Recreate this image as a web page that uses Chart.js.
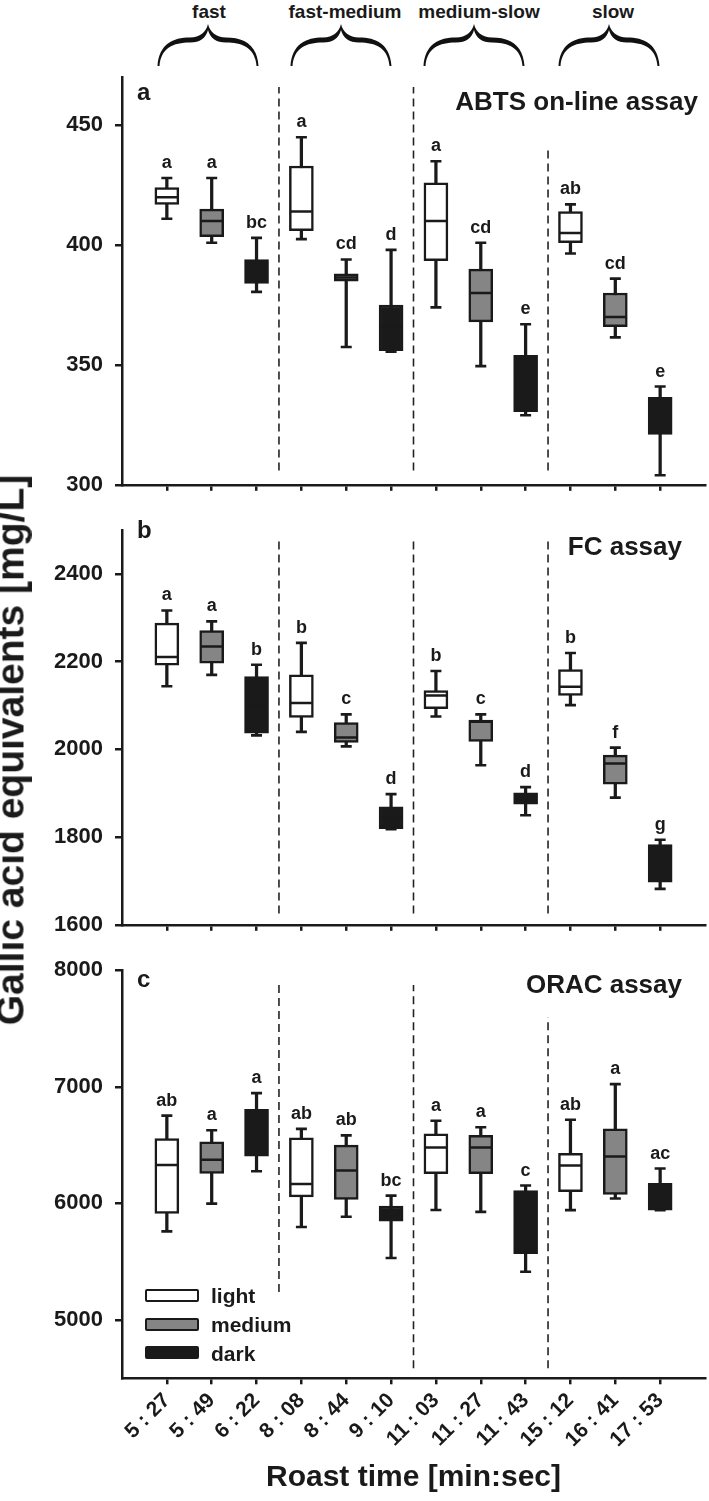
<!DOCTYPE html>
<html><head><meta charset="utf-8">
<script src="https://cdn.jsdelivr.net/npm/chart.js@4.4.1/dist/chart.umd.min.js"></script>
<style>
html,body{margin:0;padding:0;background:#fff;}
body{width:709px;height:1501px;position:relative;overflow:hidden;font-family:"Liberation Sans",Arial,sans-serif;font-weight:bold;color:#1a1a1a;}
canvas{position:absolute;left:0;}
.t{position:absolute;white-space:nowrap;line-height:1;}
.grp{position:absolute;width:200px;text-align:center;font-size:19px;line-height:1;top:2px;}
.lbox{position:absolute;left:145px;width:54px;height:13px;box-sizing:border-box;border:2.5px solid #1a1a1a;border-radius:2px;}
.ltxt{position:absolute;left:211px;font-size:21px;line-height:1;}
</style></head><body>

<div class="grp" style="left:109px">fast</div>
<div class="grp" style="left:245px">fast-medium</div>
<div class="grp" style="left:379px">medium-slow</div>
<div class="grp" style="left:513px">slow</div>
<svg width="709" height="76" style="position:absolute;left:0;top:0">
  <g fill="#111">
    <path transform="translate(208,24)" d="M-50.5,42 C-49,20 -35,13.5 -18,13.5 C-8,13.5 -2,8 0,0 C2,8 8,13.5 18,13.5 C35,13.5 49,20 50.5,42 L48.5,42 C47,24 35,18.5 18,18.5 C8,18.5 2,14 0,6 C-2,14 -8,18.5 -18,18.5 C-35,18.5 -47,24 -48.5,42 Z"/>
    <path transform="translate(341,24)" d="M-50.5,42 C-49,20 -35,13.5 -18,13.5 C-8,13.5 -2,8 0,0 C2,8 8,13.5 18,13.5 C35,13.5 49,20 50.5,42 L48.5,42 C47,24 35,18.5 18,18.5 C8,18.5 2,14 0,6 C-2,14 -8,18.5 -18,18.5 C-35,18.5 -47,24 -48.5,42 Z"/>
    <path transform="translate(474,24)" d="M-50.5,42 C-49,20 -35,13.5 -18,13.5 C-8,13.5 -2,8 0,0 C2,8 8,13.5 18,13.5 C35,13.5 49,20 50.5,42 L48.5,42 C47,24 35,18.5 18,18.5 C8,18.5 2,14 0,6 C-2,14 -8,18.5 -18,18.5 C-35,18.5 -47,24 -48.5,42 Z"/>
    <path transform="translate(609,24)" d="M-50.5,42 C-49,20 -35,13.5 -18,13.5 C-8,13.5 -2,8 0,0 C2,8 8,13.5 18,13.5 C35,13.5 49,20 50.5,42 L48.5,42 C47,24 35,18.5 18,18.5 C8,18.5 2,14 0,6 C-2,14 -8,18.5 -18,18.5 C-35,18.5 -47,24 -48.5,42 Z"/>
  </g>
</svg>

<canvas id="ca" width="709" height="510" style="top:0"></canvas>
<canvas id="cb" width="709" height="445" style="top:505px"></canvas>
<canvas id="cc" width="709" height="556" style="top:945px"></canvas>

<div class="t" style="left:137px;top:80px;font-size:24px">a</div>
<div class="t" style="left:137px;top:518px;font-size:24px">b</div>
<div class="t" style="left:137px;top:967px;font-size:24px">c</div>
<div class="t" style="right:11px;top:88px;font-size:26px">ABTS on-line assay</div>
<div class="t" style="right:27px;top:533px;font-size:26px">FC assay</div>
<div class="t" style="right:27px;top:971px;font-size:26px">ORAC assay</div>

<div class="t" style="left:10px;top:750px;font-size:39px;transform:translate(-50%,-50%) rotate(-90deg);">Gallic acid equivalents [mg/L]</div>

<div class="lbox" style="top:1289px;background:#fff"></div>
<div class="lbox" style="top:1318px;background:#858585"></div>
<div class="lbox" style="top:1346px;background:#1a1a1a"></div>
<div class="ltxt" style="top:1285px">light</div>
<div class="ltxt" style="top:1314px">medium</div>
<div class="ltxt" style="top:1343px">dark</div>

<script>
// ---- categories ----
const timeLabels = ['5 : 27','5 : 49','6 : 22','8 : 08','8 : 44','9 : 10','11 : 03','11 : 27','11 : 43','15 : 12','16 : 41','17 : 53'];
const roastLevels = ['light','medium','dark','light','medium','dark','light','medium','dark','light','medium','dark'];
const levelColors = {light:'#ffffff', medium:'#858585', dark:'#1a1a1a'};
const sepX = [3.5, 6.5, 9.5];

// ---- panel a: ABTS on-line assay ----
const aMax = [428, 428, 403, 445, 394, 398, 435, 401, 367, 417, 386, 341];
const aQ3  = [424, 415, 394, 433, 388, 375, 426, 390, 354, 414, 380, 336.5];
const aMed = [420, 410, 389, 414, 386.5, 366, 410, 380, 342, 405, 370, 328];
const aQ1  = [417, 403.5, 384, 406, 385, 356, 393.5, 368, 330.5, 401, 366, 321];
const aMin = [411, 401, 380.5, 402.5, 357.5, 355.5, 374, 349.5, 329, 396.5, 361.5, 304];
const aSig = ['a','a','bc','a','cd','d','a','cd','e','ab','cd','e'];
const aTicks = [300, 350, 400, 450];
const aSepLow = [306, 306, 306];
const aSepHigh = [466, 466, 441];

// ---- panel b: FC assay ----
const bMax = [2317, 2292, 2193, 2243, 2080, 1898, 2179, 2080, 1914, 2220, 2004, 1794];
const bQ3  = [2288, 2271, 2166, 2170, 2061, 1869, 2134, 2067, 1901, 2182, 1987, 1783];
const bMed = [2211, 2235, 2100, 2106, 2027, 1845, 2123, 2063, 1888, 2143, 1968, 1740];
const bQ1  = [2192, 2197, 2037, 2073, 2016, 1819, 2093, 2018, 1875, 2123, 1921, 1697];
const bMin = [2144, 2170, 2032, 2040, 2007, 1818, 2075, 1964, 1850, 2101, 1890, 1682];
const bSig = ['a','a','b','b','c','d','b','c','d','b','f','g'];
const bTicks = [1600, 1800, 2000, 2200, 2400];
const bSepLow = [1626, 1626, 1626];
const bSepHigh = [2476, 2476, 2476];

// ---- panel c: ORAC assay ----
const cMax = [6753, 6628, 6946, 6639, 6583, 6067, 6709, 6653, 6153, 6717, 7023, 6299];
const cQ3  = [6555, 6527, 6806, 6563, 6500, 5978, 6597, 6583, 6109, 6430, 6639, 6173];
const cMed = [6329, 6374, 6600, 6167, 6282, 5910, 6480, 6480, 5840, 6326, 6402, 6050];
const cQ1  = [5914, 6257, 6404, 6056, 6034, 5847, 6254, 6254, 5568, 6101, 6076, 5942];
const cMin = [5760, 5998, 6276, 5797, 5886, 5532, 5944, 5927, 5414, 5942, 6042, 5942];
const cSig = ['ab','a','a','ab','ab','bc','a','a','c','ab','a','ac'];
const cTicks = [5000, 6000, 7000, 8000];
const cSepLow = [5240, 4586, 4586];
const cSepHigh = [7874, 7874, 7599];

const INK = '#1a1a1a';
const FONT = '"Liberation Sans", Arial, sans-serif';
Chart.defaults.font.family = FONT;
Chart.defaults.color = INK;

const sigPlugin = {
  id: 'sig',
  afterDatasetsDraw(chart, args, opts) {
    const {ctx, scales: {x, y}} = chart;
    ctx.save();
    ctx.font = 'bold 18px ' + FONT;
    ctx.fillStyle = INK;
    ctx.textAlign = 'center';
    ctx.textBaseline = 'alphabetic';
    opts.letters.forEach((t, i) => {
      ctx.fillText(t, x.getPixelForValue(i + 1), y.getPixelForValue(opts.tops[i]) - 10);
    });
    ctx.restore();
  }
};

function makePanel(id, p) {
  const xs = timeLabels.map((_, i) => i + 1);
  const seps = sepX.map((sx, k) => ({
    type: 'line',
    data: [{x: sx, y: p.sepLow[k]}, {x: sx, y: p.sepHigh[k]}],
    borderColor: '#222', borderWidth: 1.6, borderDash: [8, 5],
    pointRadius: 0, fill: false, order: 10
  }));
  const datasets = seps.concat([
    { type: 'bar', data: xs.map((x, i) => ({x, y: [p.min[i], p.max[i]]})),
      backgroundColor: INK, borderWidth: 0, barThickness: 2.6, grouped: false, order: 6 },
    { type: 'bar', data: xs.map((x, i) => ({x, y: [p.q1[i], p.q3[i]]})),
      backgroundColor: roastLevels.map(l => levelColors[l]), borderColor: INK,
      borderWidth: 2.5, borderSkipped: false, barThickness: 24, grouped: false, order: 5 },
    { type: 'line', showLine: false, data: xs.map((x, i) => ({x, y: p.med[i]})),
      pointStyle: 'line', pointRadius: 10.5, pointBorderWidth: 2.5, pointBorderColor: INK, order: 4 },
    { type: 'line', showLine: false,
      data: xs.map((x, i) => ({x, y: p.min[i]})).concat(xs.map((x, i) => ({x, y: p.max[i]}))),
      pointStyle: 'line', pointRadius: 5.5, pointBorderWidth: 2.6, pointBorderColor: INK, order: 3 }
  ]);
  return new Chart(document.getElementById(id), {
    type: 'bar',
    data: { datasets },
    plugins: [sigPlugin],
    options: {
      responsive: false, animation: false, events: [],
      layout: { autoPadding: false, padding: { top: p.padTop, left: 0, right: 4, bottom: 0 } },
      plugins: { legend: { display: false }, tooltip: { enabled: false },
                 sig: { letters: p.sig, tops: p.max } },
      scales: {
        x: {
          type: 'linear', min: 0, max: 13, offset: false,
          afterBuildTicks: s => { s.ticks = xs.map(v => ({value: v})); },
          afterFit: s => { s.height = p.xHeight; },
          grid: { drawOnChartArea: false, drawTicks: true, tickLength: 6, color: INK, lineWidth: 2.5, offset: false },
          border: { display: true, color: INK, width: 2.5 },
          ticks: { display: p.showX, autoSkip: false, minRotation: 45, maxRotation: 45, padding: 4,
                   color: INK, font: { size: 21, weight: 'bold' }, callback: v => timeLabels[v - 1] },
          title: { display: p.showX, text: 'Roast time [min:sec]', color: INK,
                   font: { size: 30, weight: 'bold' }, padding: { top: 0, bottom: 5 } }
        },
        y: {
          type: 'linear', min: p.yMin, max: p.yMax,
          afterBuildTicks: s => { s.ticks = p.ticks.map(v => ({value: v})); },
          afterFit: s => { s.width = 122; },
          grid: { drawOnChartArea: false, drawTicks: true, tickLength: 7, color: INK, lineWidth: 2.5 },
          border: { display: true, color: INK, width: 2.5 },
          ticks: { padding: 12, color: INK, font: { size: 22, weight: 'bold' }, callback: v => String(v) }
        }
      }
    }
  });
}

makePanel('ca', { min: aMin, q1: aQ1, med: aMed, q3: aQ3, max: aMax, sig: aSig, ticks: aTicks,
  yMin: 300, yMax: 470, sepLow: aSepLow, sepHigh: aSepHigh, padTop: 77.3, xHeight: 13.3, showX: false });
makePanel('cb', { min: bMin, q1: bQ1, med: bMed, q3: bQ3, max: bMax, sig: bSig, ticks: bTicks,
  yMin: 1600, yMax: 2500, sepLow: bSepLow, sepHigh: bSepHigh, padTop: 11.7, xHeight: 15, showX: false });
makePanel('cc', { min: cMin, q1: cQ1, med: cMed, q3: cQ3, max: cMax, sig: cSig, ticks: cTicks,
  yMin: 4500, yMax: 8000, sepLow: cSepLow, sepHigh: cSepHigh, padTop: 15, xHeight: 122.7, showX: true });
</script>
</body></html>
